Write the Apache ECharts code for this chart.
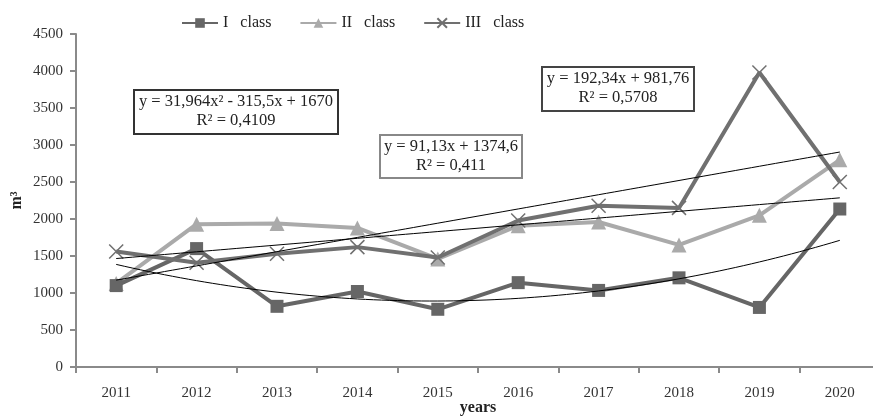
<!DOCTYPE html>
<html>
<head>
<meta charset="utf-8">
<script src="https://cdn.jsdelivr.net/npm/echarts@6/dist/echarts.min.js"></script>
<style>
  html, body { margin: 0; padding: 0; background: #fff; }
  #chart { width: 873px; height: 416px; }
</style>
</head>
<body>
<div id="chart"></div>
<script>
// Years on the category axis
const years = ['2011', '2012', '2013', '2014', '2015', '2016', '2017', '2018', '2019', '2020'];

// Volumes per class, m³
const classI   = [1100, 1600, 820, 1020, 780, 1140, 1035, 1205, 805, 2135];
const classII  = [1130, 1930, 1940, 1880, 1460, 1910, 1960, 1650, 2050, 2800];
const classIII = [1560, 1410, 1530, 1620, 1480, 1980, 2180, 2150, 3980, 2500];

const seriesNames = ['I   class', 'II   class', 'III   class'];

// Trend line coefficients (x = 1 for 2011 ... 10 for 2020)
const trendI   = [31.964, -315.5, 1670];   // quadratic: a, b, c
const trendII  = [91.13, 1374.6];          // linear: slope, intercept
const trendIII = [192.34, 981.76];         // linear: slope, intercept

const trendLabels = [
  ['y = 31,964x² - 315,5x + 1670', 'R² = 0,4109'],
  ['y = 91,13x + 1374,6', 'R² = 0,411'],
  ['y = 192,34x + 981,76', 'R² = 0,5708']
];

const yTicks = { min: 0, max: 4500, interval: 500 };

function sampleTrend(fn) {
  const pts = [];
  for (let i = 0; i <= 90; i++) {
    const x = 1 + i * 0.1;
    pts.push([x, fn(x)]);
  }
  return pts;
}

const quadI = sampleTrend(x => trendI[0] * x * x + trendI[1] * x + trendI[2]);
const linII = sampleTrend(x => trendII[0] * x + trendII[1]);
const linIII = sampleTrend(x => trendIII[0] * x + trendIII[1]);

const serif = '"Liberation Serif", "DejaVu Serif", serif';
const crossPath = 'path://M0,0L10,10M10,0L0,10';

const chart = echarts.init(document.getElementById('chart'), null, { renderer: 'canvas' });

function trendSeries(data) {
  return {
    type: 'line',
    xAxisIndex: 1,
    data: data,
    showSymbol: false,
    silent: true,
    lineStyle: { color: '#000', width: 1 },
    z: 5
  };
}

// Framed equation box: rectangle with two centred text lines
function eqBox(lines, x, y, w, h, border) {
  return {
    type: 'group',
    x: x,
    y: y,
    z: 100,
    children: [
      {
        type: 'rect',
        shape: { x: 0, y: 0, width: w, height: h },
        style: { fill: '#fff', stroke: border, lineWidth: 2 }
      },
      {
        type: 'text',
        x: w / 2,
        y: 12,
        style: { text: lines[0], font: '16.5px ' + serif, fill: '#222', align: 'center', verticalAlign: 'middle' }
      },
      {
        type: 'text',
        x: w / 2,
        y: 31,
        style: { text: lines[1], font: '16.5px ' + serif, fill: '#222', align: 'center', verticalAlign: 'middle' }
      }
    ]
  };
}

chart.setOption({
  animation: false,
  backgroundColor: '#fff',
  textStyle: { fontFamily: serif },
  grid: { left: 76, right: -7, top: 34, bottom: 49, containLabel: false, outerBoundsMode: 'none' },
  legend: {
    top: 10,
    left: 176,
    itemWidth: 36,
    itemHeight: 12,
    itemGap: 28,
    textStyle: { fontFamily: serif, fontSize: 16, color: '#222' },
    data: seriesNames
  },
  xAxis: [
    {
      type: 'category',
      data: years,
      boundaryGap: true,
      axisLine: { lineStyle: { color: '#8a8a8a', width: 2 } },
      axisTick: { show: true, length: 6, lineStyle: { color: '#8a8a8a', width: 2 } },
      axisLabel: { fontFamily: serif, fontSize: 15, color: '#333', margin: 19 },
      name: 'years',
      nameLocation: 'middle',
      nameGap: 33,
      nameMoveOverlap: false,
      nameTextStyle: { fontFamily: serif, fontSize: 16, fontWeight: 'bold', color: '#222' }
    },
    {
      type: 'value',
      min: 0.5,
      max: 10.5,
      show: false
    }
  ],
  yAxis: {
    type: 'value',
    min: yTicks.min,
    max: yTicks.max,
    interval: yTicks.interval,
    splitLine: { show: false },
    axisLine: { show: true, lineStyle: { color: '#8a8a8a', width: 2 } },
    axisTick: { show: true, length: 6, lineStyle: { color: '#8a8a8a', width: 2 } },
    axisLabel: { fontFamily: serif, fontSize: 15, color: '#333', margin: 13, formatter: v => String(v) },
    name: 'm³',
    nameLocation: 'middle',
    nameGap: 51,
    nameRotate: 90,
    nameMoveOverlap: false,
    nameTextStyle: { fontFamily: serif, fontSize: 16, fontWeight: 'bold', color: '#222' }
  },
  series: [
    {
      name: seriesNames[0],
      type: 'line',
      data: classI,
      symbol: 'rect',
      symbolSize: 13,
      lineStyle: { color: '#666', width: 4 },
      itemStyle: { color: '#666' },
      z: 3
    },
    {
      name: seriesNames[1],
      type: 'line',
      data: classII,
      symbol: 'triangle',
      symbolSize: 15,
      lineStyle: { color: '#aaa', width: 4 },
      itemStyle: { color: '#aaa' },
      z: 2
    },
    {
      name: seriesNames[2],
      type: 'line',
      data: classIII,
      symbol: crossPath,
      symbolSize: 14,
      lineStyle: { color: '#707070', width: 4 },
      itemStyle: { color: 'rgba(0,0,0,0)', borderColor: '#707070', borderWidth: 1.5 },
      z: 4
    },
    trendSeries(quadI),
    trendSeries(linII),
    trendSeries(linIII)
  ],
  graphic: [
    eqBox(trendLabels[0], 134, 90, 204, 44, '#333'),
    eqBox(trendLabels[1], 380, 135, 142, 43, '#888'),
    eqBox(trendLabels[2], 542, 67, 152, 44, '#444')
  ]
});
</script>
</body>
</html>
